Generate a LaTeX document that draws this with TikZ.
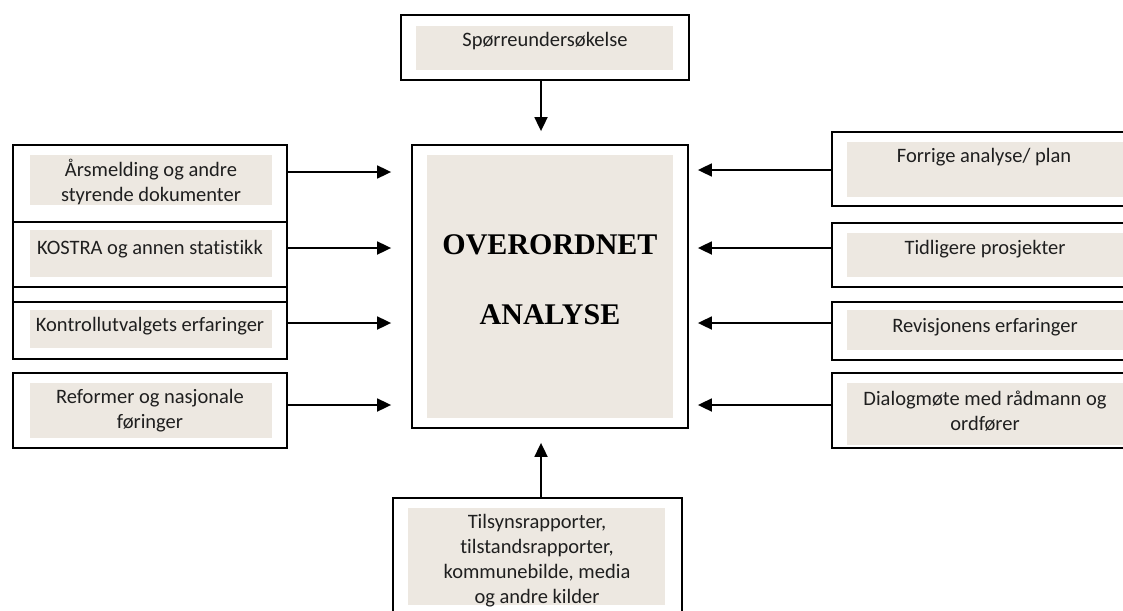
\documentclass[tikz,border=0pt]{standalone}
\usepackage{fontspec}
\setmainfont{Carlito}[Ligatures={NoCommon}]
\newfontfamily\timesfont{Liberation Serif}
\usetikzlibrary{arrows.meta}
\definecolor{fillc}{RGB}{237,232,225}
\begin{document}
\begin{tikzpicture}[x=1pt,y=-1pt,
  box/.style={draw=black,line width=1.8pt,inner sep=0pt},
  lbl/.style={font=\fontsize{20.5}{25}\selectfont,align=center,inner sep=0pt,text=black!88},
  arr/.style={line width=1.8pt,-{Triangle[length=14pt,width=13pt]}},
  bg/.style={fill=fillc}]
\useasboundingbox (0,0) rectangle (1123,610);
\clip (0,0) rectangle (1123,610);
\fill[white] (0,0) rectangle (1123,610);

% centre
\fill[bg] (427,155) rectangle (673,418);
\node[box,minimum width=276pt,minimum height=283pt] (c) at (550,286.5) {};
\node[font=\timesfont\bfseries\fontsize{30}{70}\selectfont,align=center,inner sep=0pt] (ct) at (550,280) {OVERORDNET\\ANALYSE};

% top
\fill[bg] (416,26) rectangle (673,70);
\node[box,minimum width=288pt,minimum height=65pt] (t) at (545,47.5) {};
\node[lbl] (tt) at (545,41) {Spørreundersøkelse};

% bottom
\fill[bg] (408,508) rectangle (665,605);
\node[box,minimum width=289pt,minimum height=130pt] (b) at (537.5,563) {};
\node[lbl] (bt) at (537,561) {Tilsynsrapporter,\\tilstandsrapporter,\\kommunebilde, media\\og andre kilder};

% left
\fill[bg] (30,155) rectangle (272,205);
\fill[bg] (30,230) rectangle (272,277);
\fill[bg] (30,310) rectangle (272,348);
\fill[bg] (30,383) rectangle (272,438);
\node[box,minimum width=274pt,minimum height=77pt] (l1) at (150,183.5) {};
\node[box,minimum width=274pt,minimum height=65pt] (l2) at (150,254.5) {};
\node[box,minimum width=274pt,minimum height=15pt] (lg) at (150,294.5) {};
\node[box,minimum width=274pt,minimum height=57pt] (l3) at (150,330.5) {};
\node[box,minimum width=274pt,minimum height=75pt] (l4) at (150,410.5) {};
\node[lbl] (l1t) at (151,182) {Årsmelding og andre\\styrende dokumenter};
\node[lbl] (l2t) at (150,249) {KOSTRA og annen statistikk};
\node[lbl] (l3t) at (150,326) {Kontrollutvalgets erfaringer};
\node[lbl] (l4t) at (150,411) {Reformer og nasjonale\\føringer};

% right
\fill[bg] (847,142) rectangle (1123,197);
\fill[bg] (847,233) rectangle (1123,277);
\fill[bg] (847,310) rectangle (1123,350);
\fill[bg] (847,383) rectangle (1123,445);
\node[box,minimum width=300pt,minimum height=74pt] (r1) at (982,169) {};
\node[box,minimum width=300pt,minimum height=64pt] (r2) at (982,255) {};
\node[box,minimum width=300pt,minimum height=58pt] (r3) at (982,331) {};
\node[box,minimum width=300pt,minimum height=75pt] (r4) at (982,410.5) {};
\node[lbl] (r1t) at (984,157) {Forrige analyse/ plan};
\node[lbl] (r2t) at (985,249) {Tidligere prosjekter};
\node[lbl] (r3t) at (985,327) {Revisjonens erfaringer};
\node[lbl] (r4t) at (985,411) {Dialogmøte med rådmann og\\ordfører};

% arrow start coordinates
\coordinate (a1) at (l1.east |- 0,172);
\coordinate (a2) at (l2.east |- 0,248);
\coordinate (a3) at (l3.east |- 0,323);
\coordinate (a4) at (l4.east |- 0,405);
\coordinate (b1) at (r1.west |- 0,170);
\coordinate (b2) at (r2.west |- 0,248);
\coordinate (b3) at (r3.west |- 0,323);
\coordinate (b4) at (r4.west |- 0,405);
\coordinate (tp) at (t.south -| 541,0);
\coordinate (bp) at (b.north -| 541,0);

\foreach \p in {a1,a2,a3,a4}{\draw[arr,shorten >=20pt] (\p) -- (\p -| c.west);}
\foreach \p in {b1,b2,b3,b4}{\draw[arr,shorten >=9pt] (\p) -- (\p -| c.east);}
\draw[arr,shorten >=13pt] (tp) -- (tp |- c.north);
\draw[arr,shorten >=14pt] (bp) -- (bp |- c.south);
\end{tikzpicture}
\end{document}
